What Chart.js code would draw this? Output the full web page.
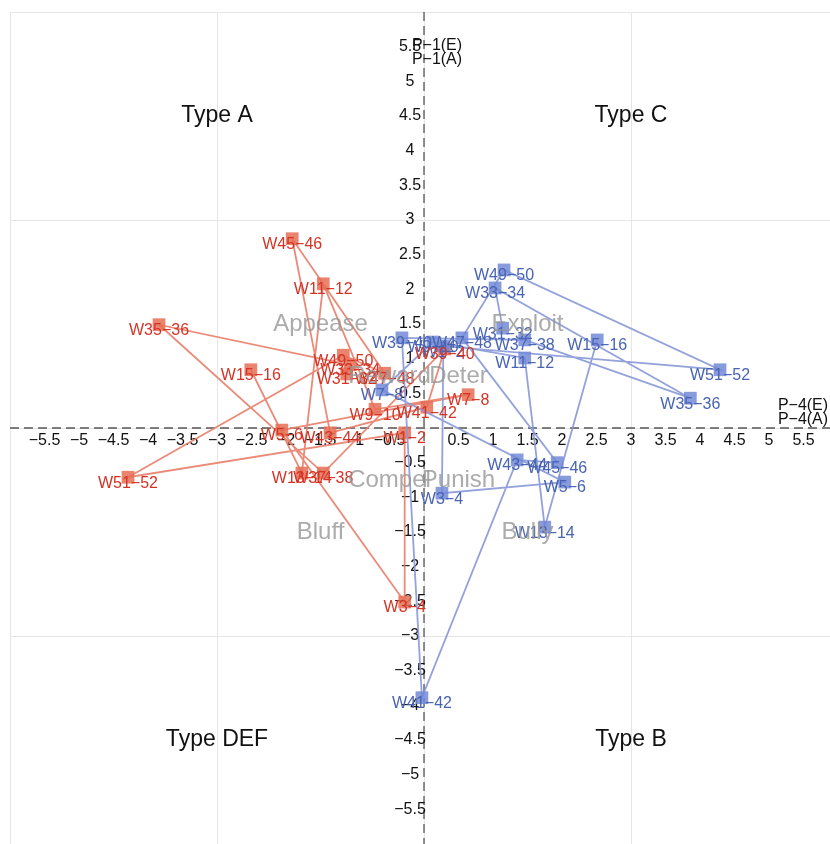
<!DOCTYPE html>
<html>
<head>
<meta charset="utf-8">
<script src="https://cdn.jsdelivr.net/npm/chart.js@4.4.1/dist/chart.umd.min.js"></script>
<style>
  html, body { margin: 0; padding: 0; background: #fff; }
  #grafica { display: block; }
</style>
</head>
<body>
<canvas id="grafica" width="830" height="844"></canvas>
<script>
// semanas (orden de la temporada)
const semanas = ['W31−32', 'W33−34', 'W35−36', 'W37−38', 'W39−40', 'W41−42', 'W43−44', 'W45−46', 'W47−48', 'W49−50', 'W51−52',
    'W1−2', 'W3−4', 'W5−6', 'W7−8', 'W9−10', 'W11−12', 'W13−14', 'W15−16'];

// serie roja
const rojoX = [-1.12, -1.07, -3.84, -1.46, 0.30, 0.04, -1.36, -1.91, -0.57, -1.17, -4.29,
    -0.28, -0.28, -2.06, 0.64, -0.71, -1.46, -1.77, -2.51];
const rojoY = [0.78, 0.91, 1.49, -0.65, 1.14, 0.30, -0.07, 2.73, 0.79, 1.05, -0.71,
    -0.07, -2.51, -0.03, 0.48, 0.27, 2.08, -0.65, 0.84];

// serie azul
const azulX = [1.14, 1.03, 3.86, 1.46, -0.32, -0.03, 1.35, 1.93, 0.55, 1.16, 4.29,
    0.28, 0.26, 2.04, -0.61, 0.13, 1.46, 1.75, 2.51];
const azulY = [1.44, 2.02, 0.43, 1.27, 1.30, -3.89, -0.46, -0.50, 1.30, 2.28, 0.84,
    1.18, -0.94, -0.78, 0.55, 1.24, 1.01, -1.43, 1.27];

// marcas de los ejes
const marcas = [-5.5, -5, -4.5, -4, -3.5, -3, -2.5, -2, -1.5, -1, -0.5, 0.5, 1, 1.5, 2, 2.5, 3, 3.5, 4, 4.5, 5, 5.5];

// textos de cuadrantes
const tipos = ['Type A', 'Type C', 'Type DEF', 'Type B'];
const tiposX = [-3, 3, -3, 3];
const tiposY = [4.5, 4.5, -4.5, -4.5];

// textos grises
const zonas = ['Appease', 'Exploit', 'Reward', 'Deter', 'Compel', 'Punish', 'Bluff', 'Bully'];
const zonasX = [-1.5, 1.5, -0.5, 0.5, -0.5, 0.5, -1.5, 1.5];
const zonasY = [1.5, 1.5, 0.75, 0.75, -0.75, -0.75, -1.5, -1.5];

const aPuntos = (xs, ys) => xs.map((x, i) => ({ x: x, y: ys[i] }));
const menos = v => String(v).replace('-', '−');
const FUENTE = '"Liberation Sans", Arial, sans-serif';

const dibujarExtras = {
    id: 'extras',
    beforeDatasetsDraw(chart) {
        const ctx = chart.ctx;
        const sx = chart.scales.x, sy = chart.scales.y;
        const x0 = sx.getPixelForValue(0), y0 = sy.getPixelForValue(0);
        const area = chart.chartArea;
        ctx.save();
        ctx.strokeStyle = '#555';
        ctx.lineWidth = 1.3;
        ctx.setLineDash([9, 5]);
        ctx.beginPath();
        ctx.moveTo(area.left, y0); ctx.lineTo(area.right, y0);
        ctx.moveTo(x0, area.top); ctx.lineTo(x0, area.bottom);
        ctx.stroke();
        ctx.setLineDash([]);

        ctx.fillStyle = '#111';
        ctx.font = '16px ' + FUENTE;
        ctx.textAlign = 'center';
        ctx.textBaseline = 'middle';
        marcas.forEach(v => {
            ctx.fillText(menos(v), sx.getPixelForValue(v), y0 + 13);
            ctx.fillText(menos(v), x0 - 14, sy.getPixelForValue(v));
        });
        ctx.fillText('P−1(E)', x0 + 13, 46);
        ctx.fillText('P−1(A)', x0 + 13, 60);
        ctx.fillText('P−4(E)', area.right - 27, y0 - 22);
        ctx.fillText('P−4(A)', area.right - 27, y0 - 8);

        ctx.font = '23px ' + FUENTE;
        tipos.forEach((t, i) => {
            ctx.fillText(t, sx.getPixelForValue(tiposX[i]), sy.getPixelForValue(tiposY[i]));
        });
        ctx.restore();
    },
    afterDatasetsDraw(chart) {
        const ctx = chart.ctx;
        const sx = chart.scales.x, sy = chart.scales.y;
        ctx.save();
        ctx.font = '16px ' + FUENTE;
        ctx.textAlign = 'center';
        ctx.textBaseline = 'middle';
        chart.data.datasets.forEach((ds, i) => {
            ctx.fillStyle = ds.colorTexto;
            chart.getDatasetMeta(i).data.forEach((p, j) => {
                ctx.fillText(semanas[j], p.x, p.y + 6);
            });
        });
        ctx.font = '24px ' + FUENTE;
        ctx.fillStyle = 'rgba(150,150,150,0.8)';
        zonas.forEach((t, i) => {
            ctx.fillText(t, sx.getPixelForValue(zonasX[i]), sy.getPixelForValue(zonasY[i]));
        });
        ctx.restore();
    }
};

new Chart(document.getElementById('grafica'), {
    type: 'scatter',
    data: {
        datasets: [{
            data: aPuntos(azulX, azulY),
            showLine: true,
            borderColor: 'rgba(135,152,215,0.9)',
            backgroundColor: 'rgba(115,138,215,0.85)',
            colorTexto: 'rgb(72,100,178)',
            borderWidth: 1.8,
            pointStyle: 'rect',
            pointRadius: 9,
            pointBorderWidth: 0
        }, {
            data: aPuntos(rojoX, rojoY),
            showLine: true,
            borderColor: 'rgba(232,125,105,0.9)',
            backgroundColor: 'rgba(230,110,85,0.85)',
            colorTexto: 'rgb(212,52,38)',
            borderWidth: 1.8,
            pointStyle: 'rect',
            pointRadius: 9,
            pointBorderWidth: 0
        }]
    },
    options: {
        responsive: false,
        animation: false,
        layout: { autoPadding: false, padding: { left: 10, top: 12, right: 0, bottom: 0 } },
        plugins: {
            legend: { display: false },
            tooltip: { enabled: false }
        },
        scales: {
            x: {
                type: 'linear', min: -6, max: 5.884,
                afterBuildTicks: s => { s.ticks = [-6, -3, 0, 3].map(v => ({ value: v })); },
                ticks: { display: false },
                grid: { color: '#e6e6e6', drawTicks: false },
                border: { display: false }
            },
            y: {
                type: 'linear', min: -6, max: 6,
                afterBuildTicks: s => { s.ticks = [-6, -3, 0, 3, 6].map(v => ({ value: v })); },
                ticks: { display: false },
                grid: { color: '#e6e6e6', drawTicks: false },
                border: { display: false }
            }
        }
    },
    plugins: [dibujarExtras]
});
</script>
</body>
</html>
